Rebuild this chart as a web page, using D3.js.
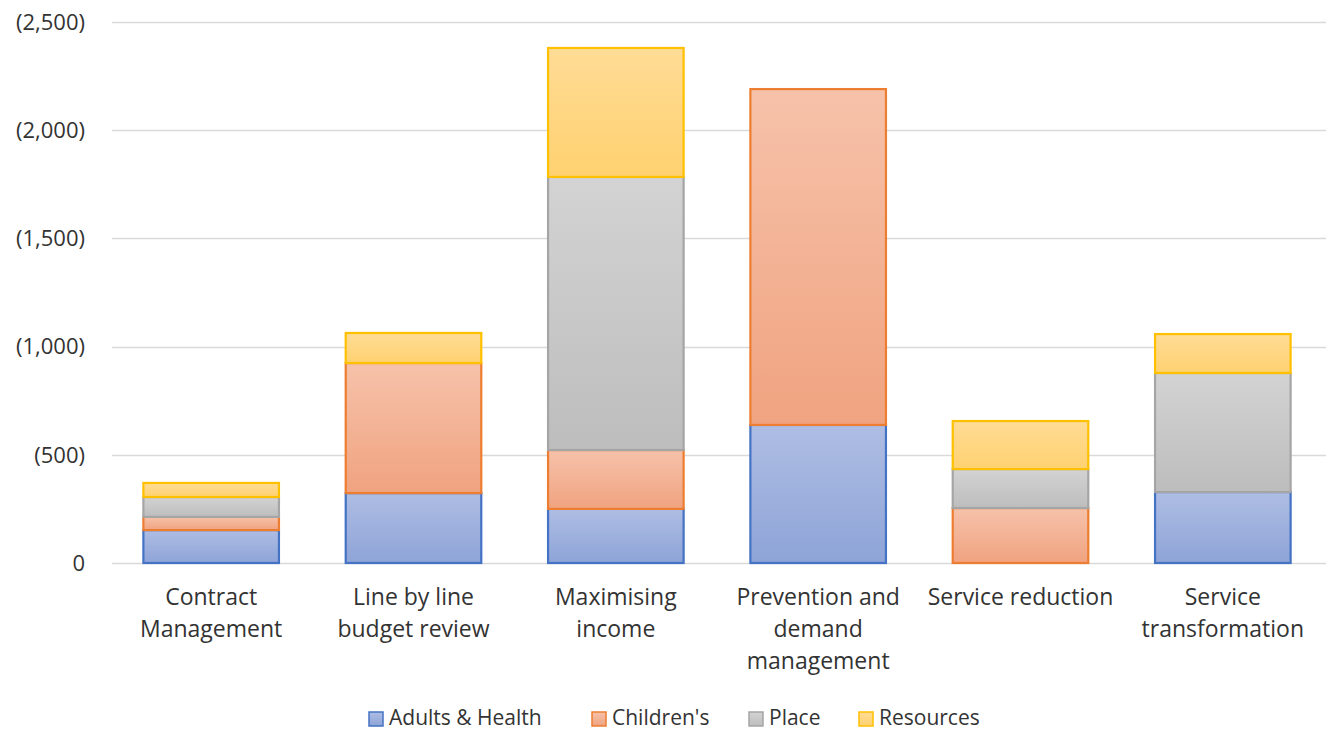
<!DOCTYPE html>
<html><head><meta charset="utf-8">
<script src="https://cdn.jsdelivr.net/npm/d3@7/dist/d3.min.js"></script>
<style>body{margin:0;background:#fff;} svg{display:block;} text{font-family:"Open Sans", sans-serif;fill:#333333;}</style>
</head><body><svg id="c" width="1326" height="730"></svg>
<script>
const categories = [["Contract","Management"],["Line by line","budget review"],["Maximising","income"],["Prevention and","demand","management"],["Service reduction"],["Service","transformation"]];
const seriesNames = ["Adults & Health","Children's","Place","Resources"];
const adults   = [152, 323, 250, 638, 0, 328];
const childrens= [61, 601, 272, 1552, 254, 0];
const place    = [92, 0, 1262, 0, 180, 550];
const resources= [65, 139, 596, 0, 222, 180];
const yTicks = [0, 500, 1000, 1500, 2000, 2500];

const colors = [
  {stroke:"#4472c4", top:"#aebde3", bot:"#8ea4d8"},
  {stroke:"#ed7d31", top:"#f6c2aa", bot:"#f0a380"},
  {stroke:"#a5a5a5", top:"#d3d3d3", bot:"#bdbdbd"},
  {stroke:"#ffc000", top:"#ffdc95", bot:"#ffd170"}
];

const svg = d3.select("#c");
const m = {l:110, r:1324, t:22, b:563};
const x = d3.scaleBand().domain(d3.range(categories.length)).range([m.l, m.r]).paddingInner(0.33).paddingOuter(0.165);
const y = d3.scaleLinear().domain([0,2500]).range([m.b, m.t]);

const defs = svg.append("defs");
colors.forEach((c,i)=>{
  const g = defs.append("linearGradient").attr("id","g"+i).attr("x1",0).attr("y1",0).attr("x2",0).attr("y2",1);
  g.append("stop").attr("offset","0%").attr("stop-color",c.top);
  g.append("stop").attr("offset","100%").attr("stop-color",c.bot);
});

// gridlines
svg.append("g").selectAll("line").data(yTicks).join("line")
  .attr("x1",112).attr("x2",1326).attr("y1",d=>Math.round(y(d))+0.5).attr("y2",d=>Math.round(y(d))+0.5)
  .attr("stroke","#d9d9d9").attr("stroke-width",1.5);

// y labels
const fmt = d3.format(",");
svg.append("g").selectAll("text").data(yTicks).join("text")
  .attr("x",85).attr("y",d=>y(d)).attr("dy","0.35em").attr("text-anchor","end")
  .attr("font-size",22).text(d=>d===0?"0":"("+fmt(d)+")");

// stacked data
const rows = categories.map((c,i)=>({i, v:[adults[i],childrens[i],place[i],resources[i]]}));
const stack = d3.stack().keys([0,1,2,3]).value((d,k)=>d.v[k]);
const stacked = stack(rows);

stacked.forEach((layer,k)=>{
  svg.append("g").selectAll("rect").data(layer.filter(d=>d[1]-d[0]>0)).join("rect")
    .attr("x",d=>x(d.data.i)).attr("width",x.bandwidth())
    .attr("y",d=>y(d[1])).attr("height",d=>y(d[0])-y(d[1]))
    .attr("fill","url(#g"+k+")").attr("stroke",colors[k].stroke).attr("stroke-width",2.2);
});

// x labels
const xl = svg.append("g");
categories.forEach((lines,i)=>{
  const t = xl.append("text").attr("x",x(i)+x.bandwidth()/2).attr("y",605).attr("text-anchor","middle").attr("font-size",23);
  lines.forEach((ln,j)=>t.append("tspan").attr("x",x(i)+x.bandwidth()/2).attr("dy",j===0?0:32).text(ln));
});

// legend
const leg = svg.append("g");
const legX = [368, 591, 748, 858];
seriesNames.forEach((n,k)=>{
  const gx = legX[k];
  leg.append("rect").attr("x",gx+1).attr("y",712).attr("width",14).attr("height",14)
    .attr("fill","url(#g"+k+")").attr("stroke",colors[k].stroke).attr("stroke-width",1.5);
  leg.append("text").attr("x",gx+21).attr("y",718).attr("dy","0.35em").attr("font-size",21).text(n);
});
</script></body></html>
